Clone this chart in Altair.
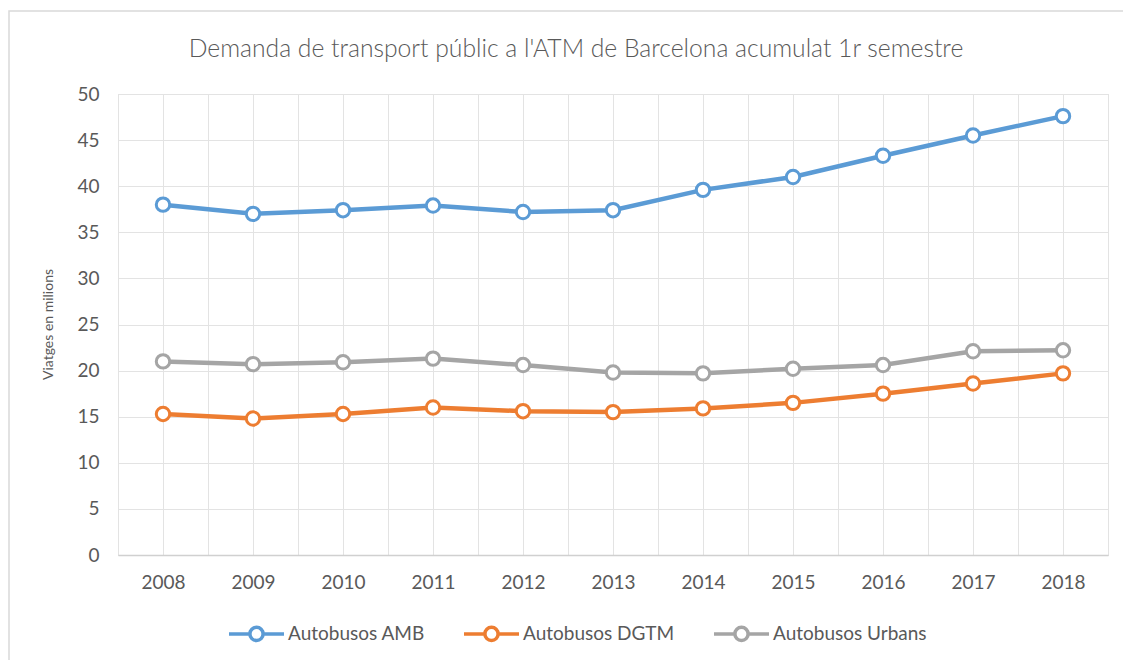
import altair as alt
import pandas as pd

years = [2008, 2009, 2010, 2011, 2012, 2013, 2014, 2015, 2016, 2017, 2018]
series_names = ["Autobusos AMB", "Autobusos DGTM", "Autobusos Urbans"]
amb = [38.0, 37.0, 37.4, 37.9, 37.2, 37.4, 39.6, 41.0, 43.3, 45.5, 47.6]
dgtm = [15.3, 14.8, 15.3, 16.0, 15.6, 15.5, 15.9, 16.5, 17.5, 18.6, 19.7]
urbans = [21.0, 20.7, 20.9, 21.3, 20.6, 19.8, 19.7, 20.2, 20.6, 22.1, 22.2]
colors = ["#5B9BD5", "#ED7D31", "#A5A5A5"]
y_ticks = [0, 5, 10, 15, 20, 25, 30, 35, 40, 45, 50]

rows = []
for name, vals in zip(series_names, [amb, dgtm, urbans]):
    for yr, v in zip(years, vals):
        rows.append({"year": yr, "value": v, "serie": name})
df = pd.DataFrame(rows)

FONT = "Lato"
TXT = "#595959"
GRID = "#E3E3E3"

half_steps = [years[0] - 0.5 + 0.5 * i for i in range(2 * len(years) + 1)]

x_enc = alt.X(
    "year:Q",
    scale=alt.Scale(domain=[years[0] - 0.5, years[-1] + 0.5], nice=False, zero=False),
    axis=alt.Axis(
        values=half_steps,
        labelExpr="datum.value % 1 == 0 ? format(datum.value, 'd') : ''",
        title=None,
        ticks=False,
        grid=True,
        gridColor=GRID,
        domainColor="#D0D0D0",
        domainWidth=1.5,
        labelFont=FONT,
        labelFontSize=19,
        labelColor=TXT,
        labelPadding=18,
        labelFlush=False,
        labelOverlap=False,
    ),
)
y_enc = alt.Y(
    "value:Q",
    scale=alt.Scale(domain=[0, 50], nice=False),
    axis=alt.Axis(
        values=y_ticks,
        title="Viatges en milions",
        titleFont=FONT,
        titleFontSize=14,
        titleFontWeight="normal",
        titleColor=TXT,
        titleX=-63,
        titleY=230,
        ticks=False,
        domain=False,
        grid=True,
        gridColor=GRID,
        labelFont=FONT,
        labelFontSize=19,
        labelColor=TXT,
        labelPadding=19,
    ),
)

color_scale = alt.Scale(domain=series_names, range=colors)

r = 0.24
sym = (
    f"M-1,0L{-r},0M{r},0L1,0"
    f"M{r},0A{r},{r} 0 1 1 {-r},0A{r},{r} 0 1 1 {r},0Z"
)

legend = alt.Legend(
    title=None,
    orient="none",
    direction="horizontal",
    legendX=109,
    legendY=510,
    symbolType=sym,
    symbolSize=3025,
    symbolStrokeWidth=3.5,
    symbolFillColor="white",
    symbolOpacity=1,
    labelFont=FONT,
    labelFontSize=19,
    labelColor=TXT,
    labelOffset=2,
    columnPadding=32,
)

lines = alt.Chart(df).mark_line(strokeWidth=4.5).encode(
    x=x_enc,
    y=y_enc,
    color=alt.Color("serie:N", scale=color_scale, legend=legend),
)

points = alt.Chart(df).mark_point(
    shape="circle", fill="white", fillOpacity=1, filled=False,
    size=180, strokeWidth=3, opacity=1
).encode(
    x=x_enc,
    y=y_enc,
    stroke=alt.Stroke("serie:N", scale=color_scale, legend=legend),
)

border = alt.Chart(pd.DataFrame({"a": [0]})).mark_rect(
    fillOpacity=0, stroke="#D9D9D9", strokeWidth=1.5
).encode(
    x=alt.value(-109), x2=alt.value(1200), y=alt.value(-83), y2=alt.value(700)
)

chart = alt.layer(border, lines, points).properties(
    width=990,
    height=461,
    padding={"left": 110, "top": 86, "right": 15, "bottom": 105},
    autosize=alt.AutoSizeParams(type="none"),
    title=alt.TitleParams(
        "Demanda de transport públic a l'ATM de Barcelona acumulat 1r semestre",
        font=FONT,
        fontSize=24.7,
        fontWeight=300,
        color=TXT,
        anchor="middle",
        dx=-37,
        offset=-51,
    ),
).configure_view(stroke=None).configure(background="white")

chart.save("out.html", embed_options={"renderer": "svg", "actions": False})
